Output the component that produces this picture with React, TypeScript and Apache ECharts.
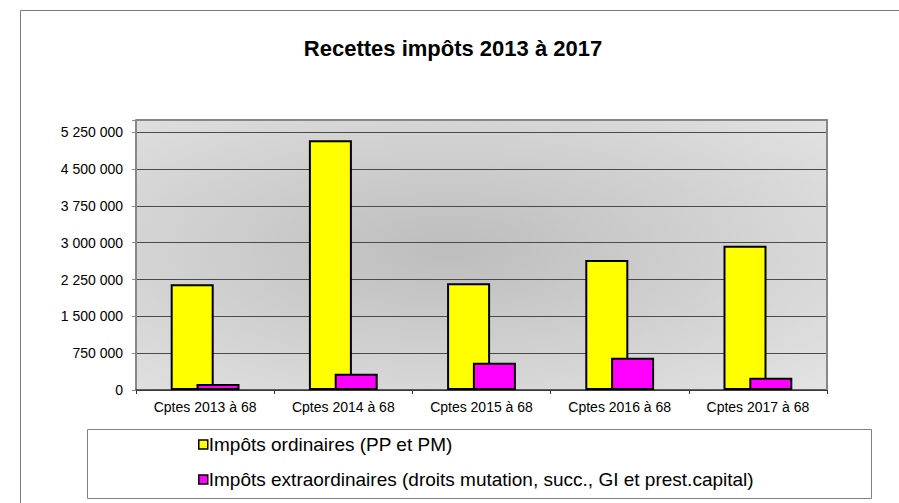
import React, { useEffect, useRef } from "react";
import * as echarts from "echarts";

const categories = [
  "Cptes 2013 à 68",
  "Cptes 2014 à 68",
  "Cptes 2015 à 68",
  "Cptes 2016 à 68",
  "Cptes 2017 à 68",
];
const ordinaires = [2153000, 5090000, 2173000, 2648000, 2939000];
const extraordinaires = [120000, 330000, 556000, 658000, 250000];
const seriesNames = [
  "Impôts ordinaires (PP et PM)",
  "Impôts extraordinaires (droits mutation, succ., GI et prest.capital)",
];
const yMin = 0;
const yMax = 5500000;
const yInterval = 750000;
const titleText = "Recettes impôts 2013 à 2017";

const FONT = "'Liberation Sans', Arial, Helvetica, sans-serif";

const fmt = (v: number) =>
  String(Math.round(v)).replace(/\B(?=(\d{3})+(?!\d))/g, " ");

export default function App() {
  const ref = useRef<HTMLDivElement>(null);
  useEffect(() => {
    if (!ref.current) return;
    const chart = echarts.init(ref.current, undefined, { renderer: "svg" });
    const gL = 136, gR = 827, gT = 120, gB = 390;
    chart.setOption({
      animation: false,
      backgroundColor: "#ffffff",
      textStyle: { fontFamily: FONT },
      grid: { left: gL, right: 899 - gR, top: gT, bottom: 503 - gB, containLabel: false },
      graphic: [
        {
          type: "rect",
          z: -10,
          silent: true,
          shape: { x: gL, y: gT, width: gR - gL, height: gB - gT },
          style: {
            fill: new echarts.graphic.RadialGradient(0.45, 0.48, 0.75, [
              { offset: 0, color: "#bdbdbd" },
              { offset: 1, color: "#e3e3e3" },
            ]),
          },
        },
        {
          type: "polyline",
          z: 10,
          silent: true,
          shape: { points: [[gL, gT], [gR, gT], [gR, gB]] },
          style: { stroke: "#878787", lineWidth: 2, fill: "none" },
        },
        {
          type: "polyline",
          z: 10,
          silent: true,
          shape: { points: [[20.5, 503], [20.5, 10.5], [899, 10.5]] },
          style: { stroke: "#7a7a7a", lineWidth: 1, fill: "none" },
        },
        {
          type: "rect",
          z: 1,
          silent: true,
          shape: { x: 87.5, y: 429.5, width: 784, height: 69 },
          style: { fill: "#ffffff", stroke: "#808080", lineWidth: 1 },
        },
        {
          type: "text",
          z: 10,
          x: 453,
          y: 48,
          style: {
            text: titleText,
            font: "bold 22px " + FONT,
            fill: "#000",
            align: "center",
            verticalAlign: "middle",
          },
        },
      ],
      legend: {
        orient: "vertical",
        left: 198,
        top: 435,
        padding: 0,
        itemWidth: 9,
        itemHeight: 9,
        itemGap: 16,
        z: 20,
        icon: "rect",
        data: seriesNames,
        itemStyle: { borderColor: "#000", borderWidth: 1.5 },
        textStyle: { fontSize: 19, color: "#000", fontFamily: FONT, padding: [0, 0, 0, -4] },
        selectedMode: false,
      },
      xAxis: {
        type: "category",
        data: categories,
        axisLine: { lineStyle: { color: "#333", width: 1.5 } },
        axisTick: { show: true, length: 4, lineStyle: { color: "#333" } },
        axisLabel: { fontSize: 14, color: "#000", margin: 10, fontFamily: FONT },
        splitLine: { show: false },
      },
      yAxis: {
        type: "value",
        min: yMin,
        max: yMax,
        interval: yInterval,
        axisLine: { show: true, lineStyle: { color: "#888", width: 2 } },
        axisTick: { show: true, length: 4, lineStyle: { color: "#888" } },
        axisLabel: {
          fontSize: 14,
          color: "#000",
          margin: 13,
          fontFamily: FONT,
          formatter: (v: number) => (v > 5250000 ? "" : fmt(v)),
        },
        splitLine: { show: true, lineStyle: { color: "#4a4a4a", width: 1 } },
      },
      series: [
        {
          name: seriesNames[0],
          type: "bar",
          data: ordinaires,
          barWidth: 43,
          barGap: "-40%",
          itemStyle: { color: "#ffff00", borderColor: "#000", borderWidth: 2 },
        },
        {
          name: seriesNames[1],
          type: "bar",
          data: extraordinaires,
          barWidth: 43,
          barGap: "-40%",
          itemStyle: { color: "#ff00ff", borderColor: "#000", borderWidth: 2 },
        },
      ],
    });
    return () => chart.dispose();
  }, []);
  return (
    <div
      ref={ref}
      style={{ position: "fixed", left: 0, top: 0, width: 899, height: 503 }}
    />
  );
}
